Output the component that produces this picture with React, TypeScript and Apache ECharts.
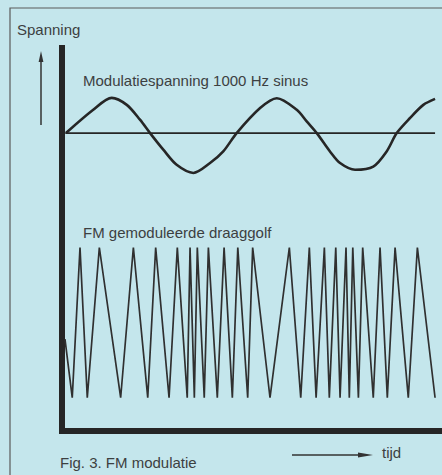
import React, { useEffect, useRef } from "react";
import * as echarts from "echarts";

// time axis in ms (1000 Hz sine → period ≈ 1 ms)
const sineTimes = [
  0.024, 0.189, 0.301, 0.392, 0.472, 0.533, 0.613, 0.694, 0.795, 0.896, 0.976,
  1.057, 1.199, 1.3, 1.421, 1.481, 1.542, 1.622, 1.683, 1.774, 1.884, 1.965,
  2.026, 2.107, 2.187, 2.258,
];
const sineValues = [
  0, 0.66, 1.0, 0.8, 0.38, 0, -0.47, -0.9, -1.13, -0.85, -0.52,
  0, 0.71, 0.99, 0.66, 0.33, 0, -0.52, -0.85, -1.04, -0.95, -0.52,
  0, 0.43, 0.8, 0.97,
];

const zeroTimes = [0.02, 2.258];
const zeroValues = [0, 0];

const fmTimes = [
  0.018, 0.062, 0.109, 0.153, 0.226, 0.355, 0.432, 0.519, 0.567, 0.648, 0.698,
  0.758, 0.775, 0.801, 0.819, 0.861, 0.886, 0.94, 0.981, 1.031, 1.064, 1.124,
  1.154, 1.259, 1.376, 1.445, 1.497, 1.538, 1.588, 1.618, 1.657, 1.683, 1.719,
  1.739, 1.76, 1.794, 1.82, 1.884, 1.925, 1.969, 2.016, 2.096, 2.151, 2.258,
];
const fmValues = [
  -0.22, -1, 1, -1, 1, -1, 1, -1, 1, -1, 1,
  -1, 1, -1, 1, -1, 1, -1, 1, -1, 1, -1,
  1, -1, 1, -1, 1, -1, 1, -1, 1, -1, 1,
  -1, 1, -1, 1, -1, 1, -1, 1, -1, 1, -1,
];

const labels = {
  yName: "Spanning",
  sine: "Modulatiespanning 1000 Hz sinus",
  fm: "FM gemoduleerde draaggolf",
  caption: "Fig. 3. FM modulatie",
  xName: "tijd",
};

const FONT = "'Liberation Sans', Arial, sans-serif";
const TEXT = "#3c4041";
const INK = "#262626";
const BG = "#c4e6ec";

export default function App() {
  const ref = useRef<HTMLDivElement>(null);
  useEffect(() => {
    if (!ref.current) return;
    const chart = echarts.init(ref.current, null, { renderer: "svg" });
    const pair = (xs: number[], ys: number[]) => xs.map((x, i) => [x, ys[i]]);
    const txt = (text: string, x: number, y: number) => ({
      type: "text",
      x,
      y,
      style: {
        text,
        fill: TEXT,
        font: `15px ${FONT}`,
        textVerticalAlign: "middle",
        verticalAlign: "middle",
      },
    });
    chart.setOption({
      animation: false,
      backgroundColor: BG,
      grid: { left: 62, right: 0, top: 48, bottom: 44 },
      xAxis: {
        type: "value",
        min: 0,
        max: 2.3,
        axisLine: { show: true, onZero: false, lineStyle: { color: INK, width: 6, cap: "square" } },
        axisTick: { show: false },
        axisLabel: { show: false },
        splitLine: { show: false },
      },
      yAxis: [
        {
          type: "value",
          min: -8.451,
          max: 2.414,
          axisLine: { show: true, onZero: false, lineStyle: { color: INK, width: 6, cap: "square" } },
          axisTick: { show: false },
          axisLabel: { show: false },
          splitLine: { show: false },
        },
        {
          type: "value",
          min: -1.443,
          max: 3.656,
          show: false,
          splitLine: { show: false },
        },
      ],
      series: [
        {
          type: "line",
          yAxisIndex: 0,
          data: pair(sineTimes, sineValues),
          smooth: 0.3,
          showSymbol: false,
          lineStyle: { color: INK, width: 2.6 },
        },
        {
          type: "line",
          yAxisIndex: 0,
          data: pair(zeroTimes, zeroValues),
          showSymbol: false,
          lineStyle: { color: INK, width: 1.6 },
        },
        {
          type: "line",
          yAxisIndex: 1,
          data: pair(fmTimes, fmValues),
          showSymbol: false,
          lineStyle: { color: "#303030", width: 1.7, join: "miter" },
        },
      ],
      graphic: [
        {
          type: "rect",
          shape: { x: 10, y: 8, width: 445, height: 480 },
          style: { fill: "none", stroke: "#5a5a5a", lineWidth: 1.2 },
        },
        txt(labels.yName, 17, 29),
        {
          type: "line",
          shape: { x1: 41, y1: 125, x2: 41, y2: 58 },
          style: { stroke: "#333", lineWidth: 1.5 },
        },
        {
          type: "polygon",
          shape: { points: [[41, 51], [38.6, 62], [43.4, 62]] },
          style: { fill: "#333" },
        },
        txt(labels.sine, 83, 80),
        txt(labels.fm, 83, 232),
        txt(labels.caption, 60, 462),
        txt(labels.xName, 382, 452),
        {
          type: "line",
          shape: { x1: 292, y1: 455, x2: 366, y2: 455 },
          style: { stroke: "#333", lineWidth: 1.5 },
        },
        {
          type: "polygon",
          shape: { points: [[358, 452.6], [373, 455], [358, 457.4]] },
          style: { fill: "#333" },
        },
      ],
    });
    return () => chart.dispose();
  }, []);
  return (
    <div
      ref={ref}
      style={{ position: "fixed", left: 0, top: 0, width: 442, height: 475 }}
    />
  );
}
